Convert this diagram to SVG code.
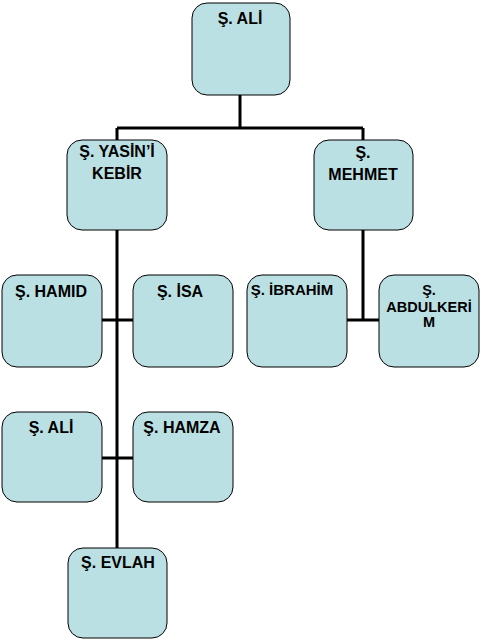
<svg xmlns="http://www.w3.org/2000/svg" width="481" height="642" viewBox="0 0 481 642">
<style>
.box{fill:#BBE0E3;stroke:#000;stroke-width:1}
.t{font-family:"Liberation Sans",Arial,sans-serif;font-weight:bold;font-size:16px;fill:#000;text-anchor:middle}
.s{font-size:14.5px}
.c{stroke:#000;stroke-width:3;fill:none}
</style>
<rect width="481" height="642" fill="#fff"/>
<g id="connectors">
<path class="c" d="M240,95V128M117,128H363M117,128V140M363,128V140"/>
<path class="c" d="M117,230V548M102,320H133M102,458H133"/>
<path class="c" d="M363,230V320M347,320H379"/>
</g>
<g id="n-ali"><rect class="box" x="192" y="3" width="98" height="92" rx="15"/><text class="t" x="240" y="24">Ş. ALİ</text></g>
<g id="n-yasin"><rect class="box" x="67" y="140" width="100" height="90" rx="15"/><text class="t" x="117" y="157">Ş. YASİN’İ</text><text class="t" x="117" y="179">KEBİR</text></g>
<g id="n-mehmet"><rect class="box" x="314" y="140" width="99" height="90" rx="15"/><text class="t" x="363" y="158">Ş.</text><text class="t" x="363" y="180">MEHMET</text></g>
<g id="n-hamid"><rect class="box" x="2" y="275" width="100" height="92" rx="15"/><text class="t" x="51" y="297">Ş. HAMID</text></g>
<g id="n-isa"><rect class="box" x="133" y="275" width="100" height="92" rx="15"/><text class="t" x="180" y="297">Ş. İSA</text></g>
<g id="n-ibrahim"><rect class="box" x="247" y="275" width="100" height="92" rx="15"/><text class="t" x="292" y="295" style="font-size:15px">Ş. İBRAHİM</text></g>
<g id="n-abdulkerim"><rect class="box" x="379" y="275" width="100" height="92" rx="15"/><text class="t s" x="429" y="295">Ş.</text><text class="t s" x="429" y="312">ABDULKERİ</text><text class="t s" x="429" y="327">M</text></g>
<g id="n-ali2"><rect class="box" x="2" y="412" width="100" height="90" rx="15"/><text class="t" x="51" y="433">Ş. ALİ</text></g>
<g id="n-hamza"><rect class="box" x="133" y="412" width="100" height="90" rx="15"/><text class="t" x="182" y="433">Ş. HAMZA</text></g>
<g id="n-evlah"><rect class="box" x="68" y="548" width="99" height="90" rx="15"/><text class="t" x="118" y="568">Ş. EVLAH</text></g>
</svg>
